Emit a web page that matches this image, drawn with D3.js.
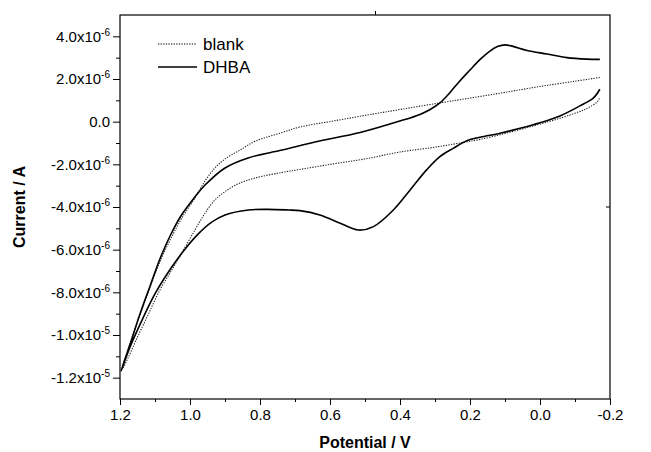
<!DOCTYPE html>
<html>
<head>
<meta charset="utf-8">
<script src="https://cdn.jsdelivr.net/npm/d3@7"></script>
<style>
  body { margin: 0; background: #fff; }
  text { font-family: Arial, "Liberation Sans", sans-serif; fill: #000; }
</style>
</head>
<body>
<svg id="chart" width="651" height="452"></svg>
<script>
// each scan is read from the upper right end, round the 1.2 V turn, to the lower right end
// potential in V, current in microampere
const dhbaPotential = [-0.171, -0.134, -0.077, -0.02, 0.037, 0.077, 0.1, 0.12, 0.143, 0.171, 0.2, 0.229,
  0.257, 0.286, 0.314, 0.343, 0.4, 0.514, 0.643, 0.737, 0.834, 0.9, 0.957, 0.986, 1.026, 1.057, 1.086,
  1.114, 1.143, 1.171, 1.197,
  1.171, 1.137, 1.099, 1.054, 1.014, 0.977, 0.937, 0.9, 0.833, 0.776, 0.719, 0.686, 0.629, 0.571, 0.519,
  0.476, 0.419, 0.371, 0.324, 0.286, 0.248, 0.209, 0.171, 0.114, 0.057, 0.0, -0.057, -0.114, -0.152, -0.171]
const dhbaCurrent = [2.92, 2.93, 3.0, 3.17, 3.34, 3.53, 3.6, 3.53, 3.31, 2.92, 2.42, 1.91,
  1.37, 0.88, 0.57, 0.34, 0.03, -0.51, -0.95, -1.33, -1.7, -2.17, -2.97, -3.53, -4.42, -5.36, -6.44,
  -7.7, -9.02, -10.42, -11.69,
  -10.55, -9.3, -8.04, -6.86, -5.97, -5.27, -4.7, -4.37, -4.14, -4.11, -4.14, -4.17, -4.37, -4.76, -5.08,
  -4.92, -4.14, -3.2, -2.26, -1.64, -1.25, -0.89, -0.73, -0.54, -0.31, -0.05, 0.27, 0.74, 1.1, 1.52]

const blankPotential = [-0.171, -0.094, 0.0, 0.094, 0.191, 0.286, 0.4, 0.494, 0.591, 0.686, 0.737, 0.814,
  0.857, 0.9, 0.929, 0.957, 0.986, 1.023, 1.051, 1.08, 1.111, 1.14, 1.169, 1.194,
  1.177, 1.154, 1.12, 1.086, 1.052, 1.024, 0.986, 0.957, 0.929, 0.9, 0.863, 0.814, 0.737, 0.686, 0.591,
  0.494, 0.4, 0.306, 0.229, 0.171, 0.094, 0.02, -0.037, -0.094, -0.134, -0.163, -0.171]
const blankCurrent = [2.07, 1.88, 1.65, 1.39, 1.13, 0.88, 0.57, 0.31, 0.03, -0.25, -0.51, -0.92,
  -1.33, -1.75, -2.17, -2.78, -3.58, -4.51, -5.36, -6.34, -7.62, -8.93, -10.29, -11.6,
  -11.08, -10.24, -9.06, -7.89, -6.95, -6.17, -5.08, -4.29, -3.67, -3.28, -2.92, -2.64, -2.38, -2.24, -1.98,
  -1.73, -1.42, -1.21, -1.0, -0.83, -0.53, -0.2, 0.06, 0.36, 0.62, 0.92, 1.13]

const potentialTicks = [1.2, 1.0, 0.8, 0.6, 0.4, 0.2, 0.0, -0.2]
const potentialMinor = [1.1, 0.9, 0.7, 0.5, 0.3, 0.1, -0.1]
const currentTicks = [4e-6, 2e-6, 0, -2e-6, -4e-6, -6e-6, -8e-6, -1e-5, -1.2e-5]
const currentMinor = [3e-6, 1e-6, -1e-6, -3e-6, -5e-6, -7e-6, -9e-6, -1.1e-5]
const seriesNames = ['blank', 'DHBA']

const plotLeft = 120
const plotRight = 610
const plotTop = 15
const plotBottom = 399

const svg = d3.select('#chart')

const x = d3.scaleLinear().domain([1.2, -0.2]).range([plotLeft, plotRight])
const y = d3.scaleLinear().domain([-13e-6, 5e-6]).range([plotBottom, plotTop])

/**
 * Writes "m.mx10" with a superscript exponent, as in the original figure.
 *
 * @param {*} sel The tick text selection
 */
function sciLabel (sel) {
  sel.each(function (d) {
    const t = d3.select(this).text('')
    if (d === 0) { t.text('0.0'); return }
    const exp = Math.floor(Math.log10(Math.abs(d)) + 1e-9)
    const mant = (d / Math.pow(10, exp)).toFixed(1)
    t.append('tspan').text(mant + 'x10')
    t.append('tspan').attr('font-size', 10).attr('dy', -6).text(exp)
  })
}

// frame
svg.append('rect')
  .attr('x', plotLeft).attr('y', plotTop)
  .attr('width', plotRight - plotLeft).attr('height', plotBottom - plotTop)
  .attr('fill', 'none').attr('stroke', '#000').attr('stroke-width', 1.2)

// x axis
const xAxis = svg.append('g')
  .attr('transform', 'translate(0,' + plotBottom + ')')
  .call(d3.axisBottom(x).tickValues(potentialTicks).tickSize(6).tickPadding(4)
    .tickFormat(d => d3.format('.1f')(d).replace('−', '-')))
xAxis.select('.domain').remove()
xAxis.selectAll('text').attr('font-size', 15).attr('font-family', 'Arial, "Liberation Sans", sans-serif')
svg.append('g')
  .attr('transform', 'translate(0,' + plotBottom + ')')
  .call(d3.axisBottom(x).tickValues(potentialMinor).tickSize(3).tickFormat(''))
  .select('.domain').remove()

// y axis
const yAxis = svg.append('g')
  .attr('transform', 'translate(' + plotLeft + ',0)')
  .call(d3.axisLeft(y).tickValues(currentTicks).tickSize(7).tickPadding(3))
yAxis.select('.domain').remove()
yAxis.selectAll('text').attr('font-size', 15).attr('font-family', 'Arial, "Liberation Sans", sans-serif')
  .call(sciLabel)
svg.append('g')
  .attr('transform', 'translate(' + plotLeft + ',0)')
  .call(d3.axisLeft(y).tickValues(currentMinor).tickSize(4).tickFormat(''))
  .select('.domain').remove()

// stray ticks on the top and right edges of the frame
svg.append('line')
  .attr('x1', x(0.47)).attr('x2', x(0.47))
  .attr('y1', plotTop).attr('y2', plotTop - 4)
  .attr('stroke', '#000')
svg.append('line')
  .attr('x1', plotRight).attr('x2', plotRight - 4)
  .attr('y1', y(-4e-6)).attr('y2', y(-4e-6))
  .attr('stroke', '#000')

// curves
const line = d3.line()
  .x(d => x(d[0]))
  .y(d => y(d[1] * 1e-6))
  .curve(d3.curveCatmullRom.alpha(0.5))

svg.append('path')
  .datum(d3.zip(blankPotential, blankCurrent))
  .attr('d', line)
  .attr('fill', 'none')
  .attr('stroke', '#222')
  .attr('stroke-width', 1.1)
  .attr('stroke-dasharray', '1.3,1.3')

svg.append('path')
  .datum(d3.zip(dhbaPotential, dhbaCurrent))
  .attr('d', line)
  .attr('fill', 'none')
  .attr('stroke', '#000')
  .attr('stroke-width', 1.6)

// legend
const legend = svg.append('g')
seriesNames.forEach((name, i) => {
  const ly = 44 + i * 23
  legend.append('line')
    .attr('x1', 158).attr('x2', 197)
    .attr('y1', ly).attr('y2', ly)
    .attr('stroke', '#000')
    .attr('stroke-width', i === 0 ? 1.1 : 1.6)
    .attr('stroke-dasharray', i === 0 ? '1.3,1.3' : null)
  legend.append('text')
    .text(name)
    .attr('x', 203).attr('y', ly + 6)
    .attr('font-size', 17)
})

// axis titles
svg.append('text')
  .text('Potential / V')
  .attr('x', (plotLeft + plotRight) / 2)
  .attr('y', 448)
  .attr('text-anchor', 'middle')
  .attr('font-size', 16)
  .attr('font-weight', 'bold')

svg.append('text')
  .text('Current / A')
  .attr('transform', 'translate(25,' + (plotTop + plotBottom) / 2 + ') rotate(-90)')
  .attr('text-anchor', 'middle')
  .attr('font-size', 16)
  .attr('font-weight', 'bold')
</script>
</body>
</html>
